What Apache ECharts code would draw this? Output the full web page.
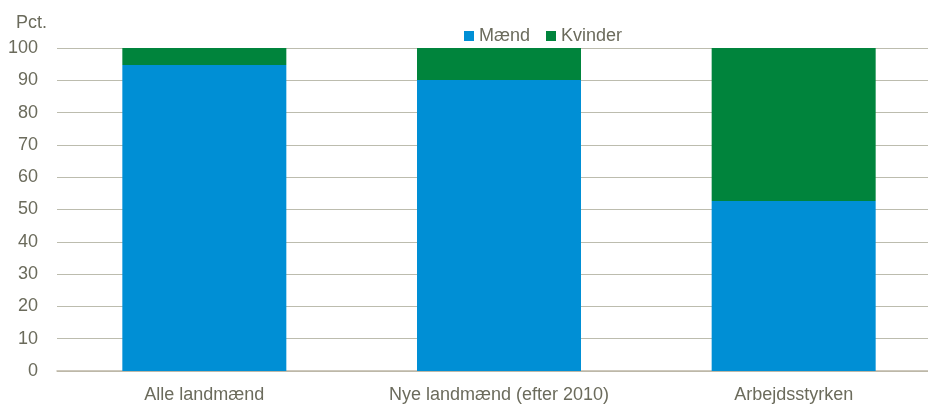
<!DOCTYPE html>
<html>
<head>
<meta charset="utf-8">
<script src="https://cdn.jsdelivr.net/npm/echarts@6/dist/echarts.min.js"></script>
<style>
  html, body { margin: 0; padding: 0; background: #fff; }
  #chart { width: 928px; height: 405px; }
</style>
</head>
<body>
<div id="chart"></div>
<script>
const categories = ['Alle landmænd', 'Nye landmænd (efter 2010)', 'Arbejdsstyrken']
const maend = [94.7, 90.1, 52.6]
const kvinder = [5.3, 9.9, 47.4]

const textColor = '#6b6b5c'
const font = '"Liberation Sans", Arial, sans-serif'

const chart = echarts.init(document.getElementById('chart'))

chart.setOption({
  animation: false,
  textStyle: { fontFamily: font },
  // plot area runs a bit past the right edge, like the original
  grid: { left: 57, width: 884, top: 48, bottom: 34, outerBoundsMode: 'none' },
  legend: {
    left: 459,
    top: 22,
    itemWidth: 10,
    itemHeight: 10,
    itemGap: 16,
    icon: 'rect',
    textStyle: { color: textColor, fontSize: 18, fontFamily: font },
    data: ['Mænd', 'Kvinder']
  },
  xAxis: {
    type: 'category',
    data: categories,
    axisTick: { show: false },
    axisLine: { lineStyle: { color: '#bdb7a6', width: 1.5 } },
    axisLabel: { color: textColor, fontSize: 18, margin: 15, fontFamily: font }
  },
  yAxis: {
    type: 'value',
    min: 0,
    max: 100,
    interval: 10,
    name: 'Pct.',
    nameLocation: 'end',
    nameGap: 16,
    nameTextStyle: { color: textColor, fontSize: 18, align: 'right', padding: [0, 10, 0, 0], fontFamily: font },
    axisLine: { show: false },
    axisTick: { show: false },
    splitLine: { lineStyle: { color: '#bcbcae', width: 1 } },
    axisLabel: { color: textColor, fontSize: 18, margin: 19, fontFamily: font }
  },
  series: [
    {
      name: 'Mænd',
      type: 'bar',
      stack: 'total',
      barWidth: 164,
      data: maend,
      itemStyle: { color: '#008fd5' }
    },
    {
      name: 'Kvinder',
      type: 'bar',
      stack: 'total',
      barWidth: 164,
      data: kvinder,
      itemStyle: { color: '#00843c' }
    }
  ]
})
</script>
</body>
</html>
